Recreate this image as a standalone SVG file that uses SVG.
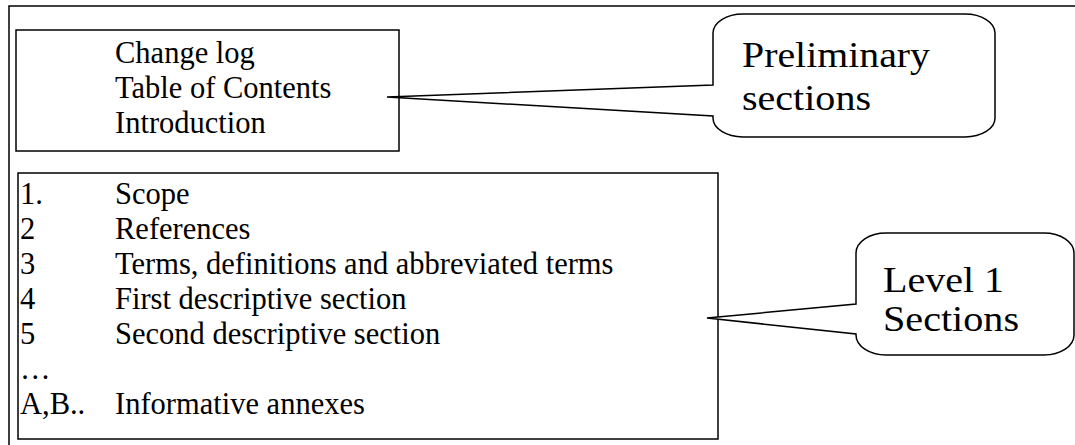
<svg xmlns="http://www.w3.org/2000/svg" width="1075" height="445" viewBox="0 0 1075 445">
<style>
.frame{fill:none;stroke:#000;stroke-width:1.5}
.box{fill:#fff;stroke:#000;stroke-width:1.5}
.callout{fill:#fff;stroke:#000;stroke-width:1.5;stroke-linejoin:miter}
.t{font-family:"Liberation Serif","Times New Roman",serif;font-size:30.5px;fill:#000}
.c{font-family:"Liberation Serif","Times New Roman",serif;font-size:35px;fill:#000}
</style>
<rect x="0" y="0" width="1075" height="445" fill="#fff"/>
<rect id="outer" class="frame" x="9" y="6" width="1200" height="600"/>
<g id="preliminary-box">
<rect class="box" x="16" y="30" width="383" height="121"/>
<text class="t" x="115" y="63">Change log</text>
<text class="t" x="115" y="98">Table of Contents</text>
<text class="t" x="115" y="133">Introduction</text>
</g>
<g id="level1-box">
<rect class="box" x="18" y="173" width="700" height="266"/>
<text class="t" x="20" y="204">1.</text><text class="t" x="115" y="204">Scope</text>
<text class="t" x="20" y="239">2</text><text class="t" x="115" y="239">References</text>
<text class="t" x="20" y="274">3</text><text class="t" x="115" y="274">Terms, definitions and abbreviated terms</text>
<text class="t" x="20" y="309">4</text><text class="t" x="115" y="309">First descriptive section</text>
<text class="t" x="20" y="344">5</text><text class="t" x="115" y="344">Second descriptive section</text>
<text class="t" x="20" y="379">…</text>
<text class="t" x="20" y="414">A,B..</text><text class="t" x="115" y="414">Informative annexes</text>
</g>
<g id="connectors">
<path id="callout-preliminary-shape" class="callout" d="M 743,14 H 965 A 30,19 0 0 1 995,33 V 118 A 30,19 0 0 1 965,137 H 743 A 30,19 0 0 1 713,118 V 116 L 387,97 L 713,85 V 33 A 30,19 0 0 1 743,14 Z"/>
<path id="callout-level1-shape" class="callout" d="M 886,233 H 1044 A 30,20 0 0 1 1074,253 V 335 A 30,20 0 0 1 1044,355 H 886 A 30,20 0 0 1 856,335 V 334 L 707,318 L 856,304 V 253 A 30,20 0 0 1 886,233 Z"/>
</g>
<g id="callout-preliminary">
<text class="c" x="742" y="67" textLength="188" lengthAdjust="spacingAndGlyphs">Preliminary</text>
<text class="c" x="742" y="110" textLength="129" lengthAdjust="spacingAndGlyphs">sections</text>
</g>
<g id="callout-level1">
<text class="c" x="883" y="292" textLength="121" lengthAdjust="spacingAndGlyphs">Level 1</text>
<text class="c" x="883" y="331" textLength="136" lengthAdjust="spacingAndGlyphs">Sections</text>
</g>
</svg>
